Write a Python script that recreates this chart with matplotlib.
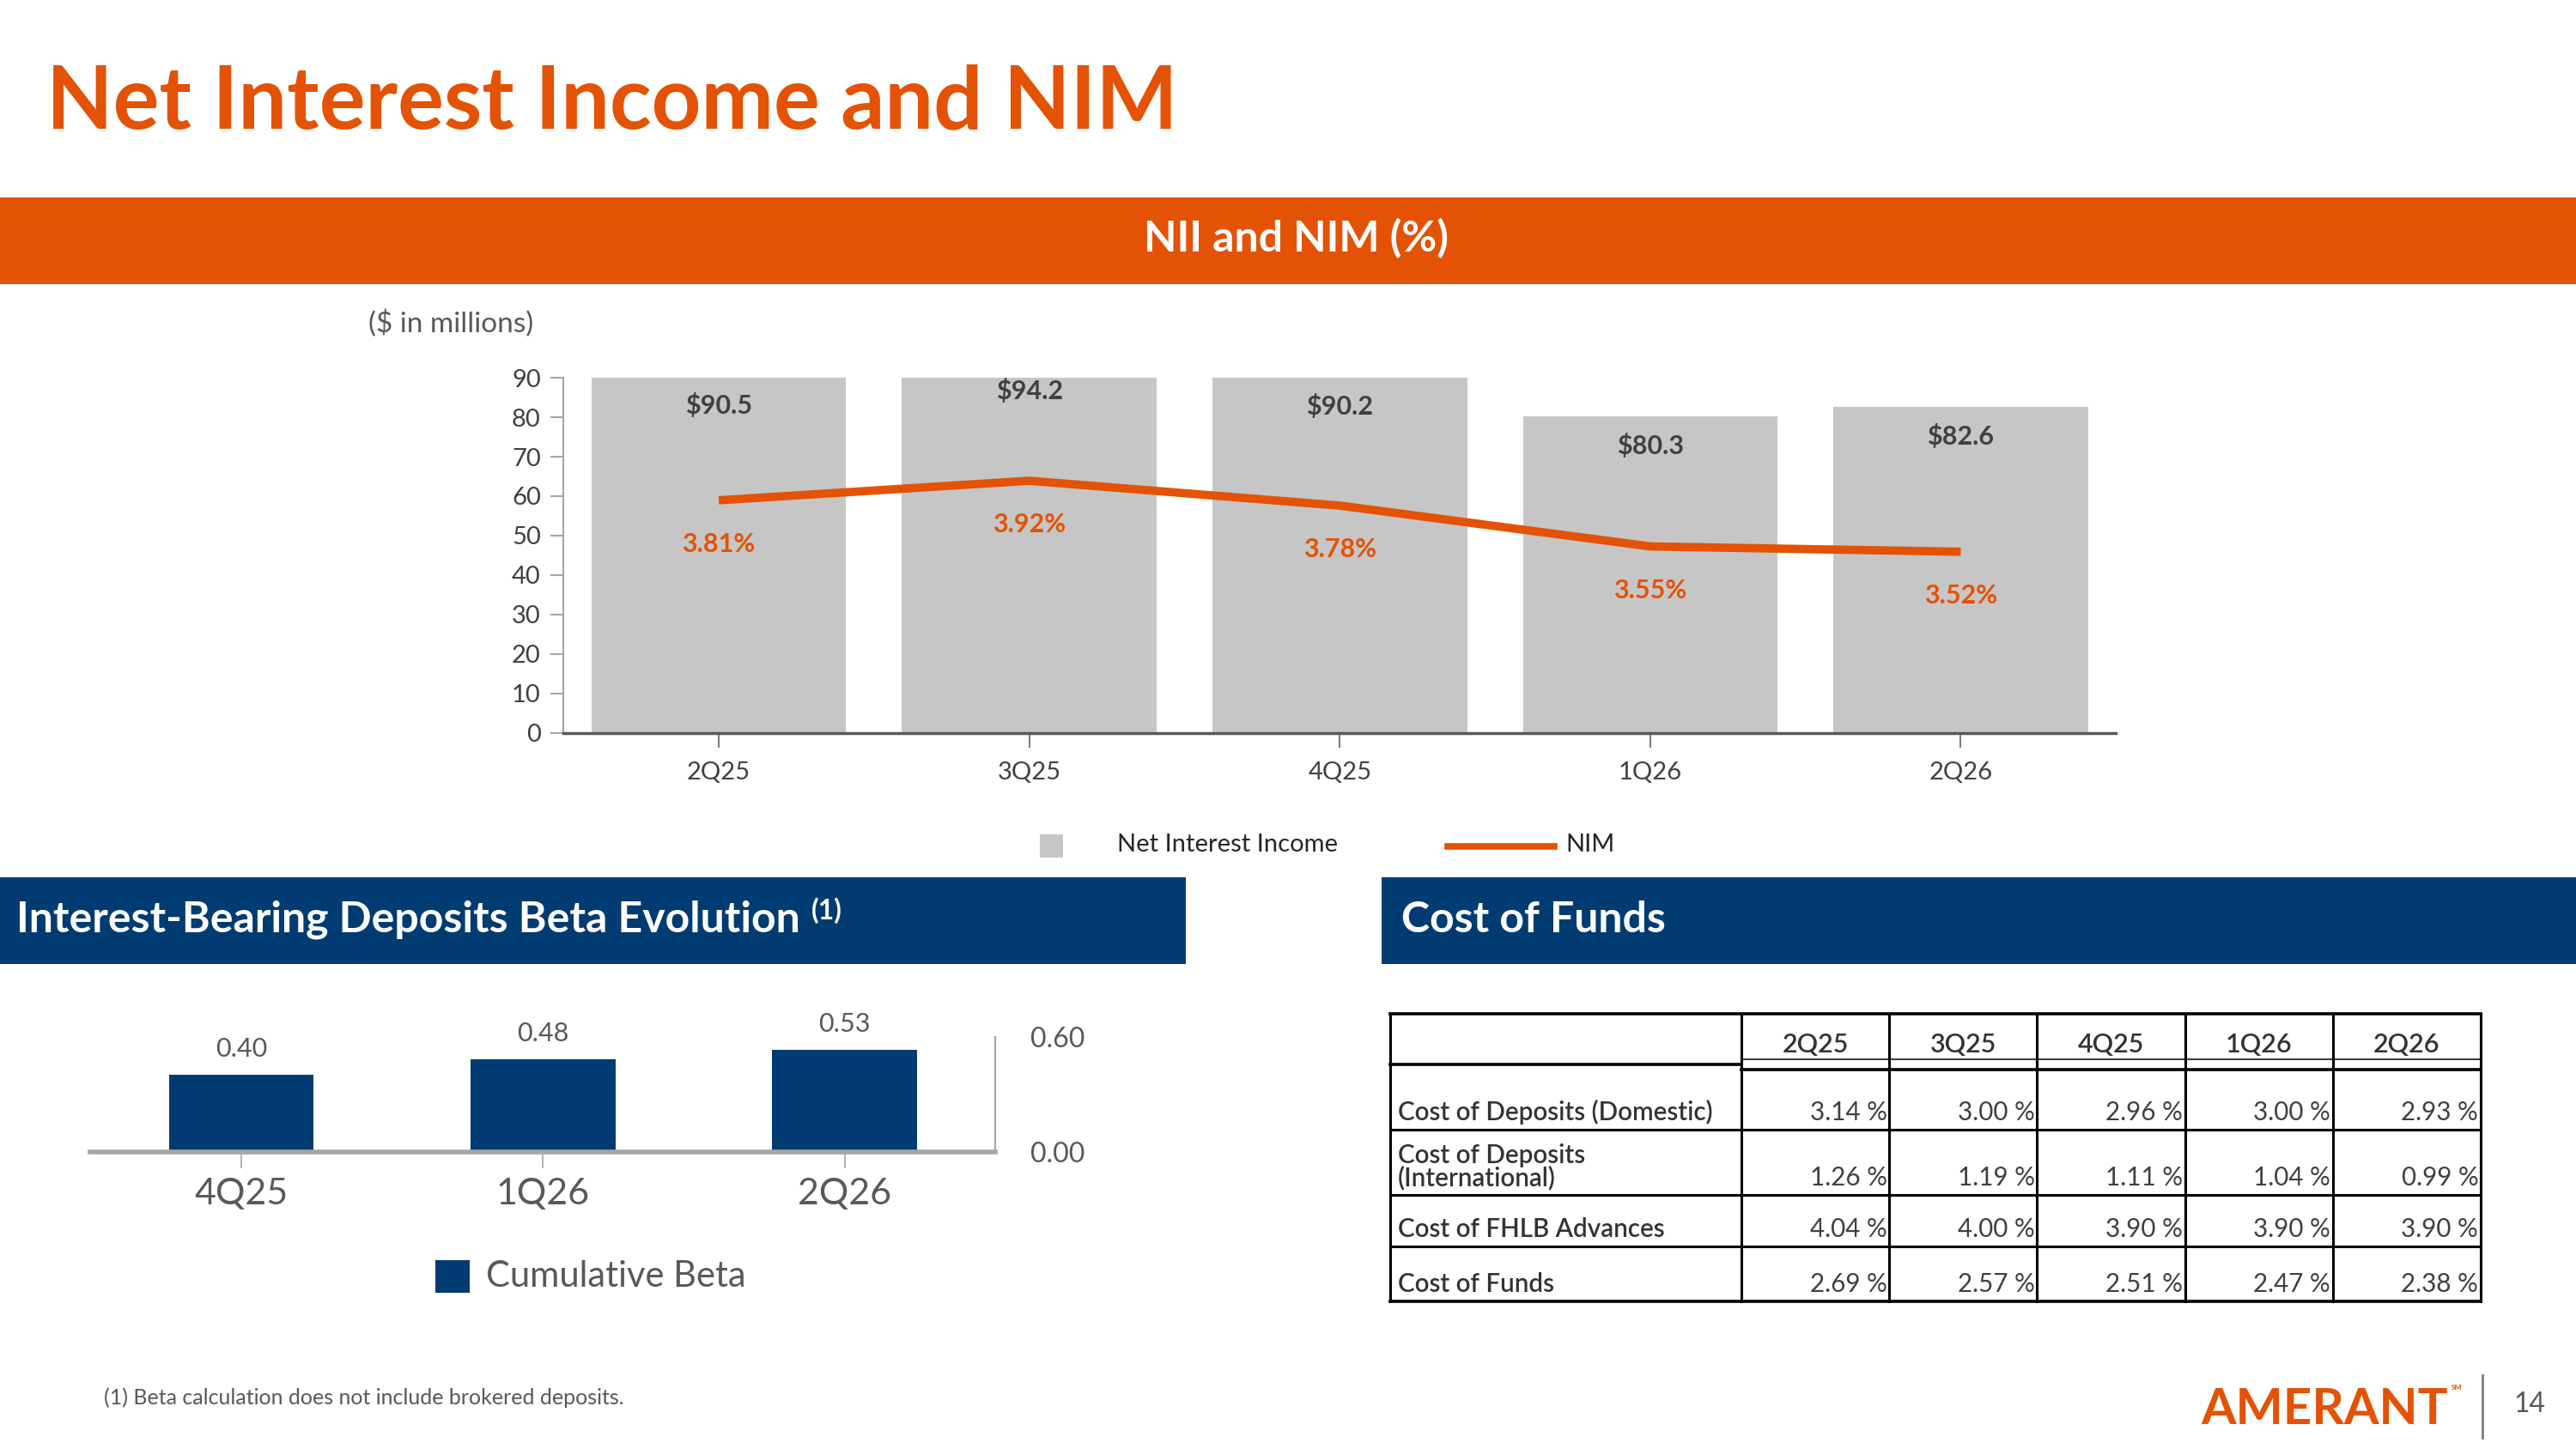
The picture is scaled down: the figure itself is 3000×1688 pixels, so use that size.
import matplotlib
matplotlib.use("Agg")
import matplotlib.pyplot as plt
from matplotlib.patches import Rectangle
from matplotlib.lines import Line2D
import numpy as np

plt.rcParams['font.family'] = ['Lato', 'DejaVu Sans']

ORANGE = "#E35205"
NAVY = "#003B71"
BAR_GRAY = "#C6C6C6"
TXT = "#404040"
TXT2 = "#595959"

# NII ($ millions) and NIM (%)
quarters = ["2Q25", "3Q25", "4Q25", "1Q26", "2Q26"]
nii = [90.5, 94.2, 90.2, 80.3, 82.6]
nim = [3.81, 3.92, 3.78, 3.55, 3.52]

# interest-bearing deposits beta
beta_quarters = ["4Q25", "1Q26", "2Q26"]
beta = [0.40, 0.48, 0.53]

# cost of funds table (%)
cof_cols = ["2Q25", "3Q25", "4Q25", "1Q26", "2Q26"]
cof_labels = ["Cost of Deposits (Domestic)", "Cost of Deposits\n(International)",
              "Cost of FHLB Advances", "Cost of Funds"]
cof_domestic = [3.14, 3.00, 2.96, 3.00, 2.93]
cof_international = [1.26, 1.19, 1.11, 1.04, 0.99]
cof_fhlb = [4.04, 4.00, 3.90, 3.90, 3.90]
cof_total = [2.69, 2.57, 2.51, 2.47, 2.38]

# slide layout grid (positions are given on a 1568 x 882 grid)
W, H = 1568, 882


def fx(x):
    return x / W


def fy(y):
    return 1 - y / H


fig = plt.figure(figsize=(30, 16.88), dpi=100)


def box(x0, y0, x1, y1, color, **kw):
    fig.add_artist(Rectangle((fx(x0), fy(y1)), fx(x1) - fx(x0), fy(y0) - fy(y1),
                             transform=fig.transFigure, facecolor=color, lw=0, **kw))


# title and header bands
fig.text(fx(28), fy(78), "Net Interest Income and NIM", color=ORANGE, fontsize=72.5,
         fontweight='bold', va='baseline')
box(0, 120, W, 173, ORANGE)
fig.text(fx(789), fy(145), "NII and NIM (%)", color='white', fontsize=36,
         fontweight='bold', ha='center', va='center')
box(0, 534, 722, 587, NAVY)
fig.text(fx(10), fy(560), "Interest-Bearing Deposits Beta Evolution", color='white',
         fontsize=36, fontweight='bold', va='center')
fig.text(fx(494), fy(554), "(1)", color='white', fontsize=23, fontweight='bold', va='center')
box(841, 534, W, 587, NAVY)
fig.text(fx(853), fy(560), "Cost of Funds", color='white', fontsize=36,
         fontweight='bold', va='center')

# ---- NII / NIM chart
fig.text(fx(224), fy(197), "($ in millions)", color=TXT2, fontsize=24, va='center')
ax = fig.add_axes([fx(343), fy(446), fx(1288) - fx(343), fy(230) - fy(446)])
x = np.arange(len(quarters))
ax.bar(x, nii, width=0.82, color=BAR_GRAY)
ax.set_xlim(-0.5, len(quarters) - 0.5)
ax.set_ylim(0, 90)
ax.set_yticks(range(0, 91, 10))
ax.set_xticks(x, quarters)
for s in ['top', 'right']:
    ax.spines[s].set_visible(False)
ax.spines['left'].set_color('#A6A6A6')
ax.spines['left'].set_linewidth(1.5)
ax.spines['bottom'].set_color('#595959')
ax.spines['bottom'].set_linewidth(2.5)
ax.tick_params(axis='y', length=11, width=1.5, color='#A6A6A6', labelsize=21,
               labelcolor=TXT, pad=8)
ax.tick_params(axis='x', length=12, width=1.5, color='#7F7F7F', labelsize=21,
               labelcolor=TXT, pad=12)
for xi, v in zip(x, nii):
    ax.annotate(f"${v:.1f}", (xi, v), xytext=(0, -25), textcoords='offset points',
                ha='center', va='center', fontsize=22, fontweight='bold', color=TXT,
                annotation_clip=False)

ax2 = ax.twinx()
ax2.set_ylim(2.5, 4.5)
ax2.axis('off')
ax2.plot(x, nim, color=ORANGE, lw=7, solid_capstyle='butt')
for xi, v in zip(x, nim):
    ax2.annotate(f"{v:.2f}%", (xi, v), xytext=(0, -37), textcoords='offset points',
                 ha='center', va='center', fontsize=22, fontweight='bold', color=ORANGE)

# legend
box(633, 508, 647, 522, BAR_GRAY, edgecolor='#B0B0B0')
fig.text(fx(680), fy(514), "Net Interest Income", fontsize=21, color='#262626', va='center')
fig.add_artist(Line2D([fx(881), fx(946)], [fy(515), fy(515)], transform=fig.transFigure,
                      color=ORANGE, lw=5.5))
fig.text(fx(953), fy(514), "NIM", fontsize=21, color='#262626', va='center')

# ---- beta chart
bx = fig.add_axes([fx(55), fy(701), fx(606) - fx(55), fy(631) - fy(701)])
xb = np.arange(len(beta_quarters))
bx.bar(xb, beta, width=0.48, color=NAVY)
bx.set_xlim(-0.5, len(beta_quarters) - 0.5)
bx.set_ylim(0, 0.6)
bx.yaxis.tick_right()
bx.set_yticks([0, 0.6], ["0.00", "0.60"])
bx.set_xticks(xb, beta_quarters)
for s in ['top', 'left']:
    bx.spines[s].set_visible(False)
bx.spines['bottom'].set_color('#A6A6A6')
bx.spines['bottom'].set_linewidth(4)
bx.spines['right'].set_color('#A6A6A6')
bx.spines['right'].set_linewidth(1.5)
bx.tick_params(axis='y', length=0, pad=29, labelsize=23, labelcolor=TXT2)
bx.tick_params(axis='x', length=14, width=1.2, color='#A6A6A6', labelsize=31,
               labelcolor=TXT2, pad=8)
for xi, v in zip(xb, beta):
    bx.annotate(f"{v:.2f}", (xi, v), xytext=(0, 22), textcoords='offset points',
                ha='center', va='center', fontsize=22, color=TXT2)

box(265, 767, 286, 787, NAVY)
fig.text(fx(296), fy(777), "Cumulative Beta", fontsize=30, color=TXT2, va='center')

# ---- cost of funds table
tx = fig.add_axes([fx(846), fy(792), fx(1510) - fx(846), fy(617) - fy(792)])
tx.set_xlim(0, 664)
tx.set_ylim(175, 0)
tx.axis('off')
col_edges = [0, 214, 304, 394, 484, 574, 664]
row_bottoms = [70.7, 110.4, 141.8, 175]
lk = dict(color='black', clip_on=False, capstyle='projecting')
tx.hlines([0, 175], 0, 664, lw=2.6, **lk)
tx.vlines(col_edges, 0, 175, lw=2.2, **lk)
tx.hlines(31, 0, 214, lw=2.6, **lk)
tx.hlines(28, 214, 664, lw=1.1, **lk)
tx.hlines(34, 214, 664, lw=2.6, **lk)
tx.hlines(row_bottoms[:-1], 0, 664, lw=2.2, **lk)

for j, c in enumerate(cof_cols):
    tx.text((col_edges[j + 1] + col_edges[j + 2]) / 2, 19, c, ha='center', va='center',
            fontsize=22, fontweight='semibold', color='#333333')

cof_values = [cof_domestic, cof_international, cof_fhlb, cof_total]
for i, (lab, vals) in enumerate(zip(cof_labels, cof_values)):
    yb = row_bottoms[i] - 3
    tx.text(5, yb, lab, ha='left', va='bottom', fontsize=21.3, fontweight='semibold',
            color='#333333', linespacing=0.9)
    for j, v in enumerate(vals):
        tx.text(col_edges[j + 2] - 1.5, yb, f"{v:.2f} %", ha='right', va='bottom',
                fontsize=21.3, color=TXT)

# ---- footer
fig.text(fx(63), fy(851), "(1) Beta calculation does not include brokered deposits.",
         fontsize=18, color=TXT2, va='center')
fig.text(fx(1340), fy(867), "AMERANT", fontsize=42, fontweight='bold', color=ORANGE,
         va='baseline')
fig.text(fx(1492), fy(843), "SM", fontsize=6, fontweight='bold', color=ORANGE, va='top')
fig.add_artist(Line2D([fx(1511), fx(1511)], [fy(837), fy(875)], transform=fig.transFigure,
                      color='#7F7F7F', lw=2))
fig.text(fx(1530), fy(855), "14", fontsize=23, color=TXT2, va='center')

fig.savefig("out.png", dpi=100)
